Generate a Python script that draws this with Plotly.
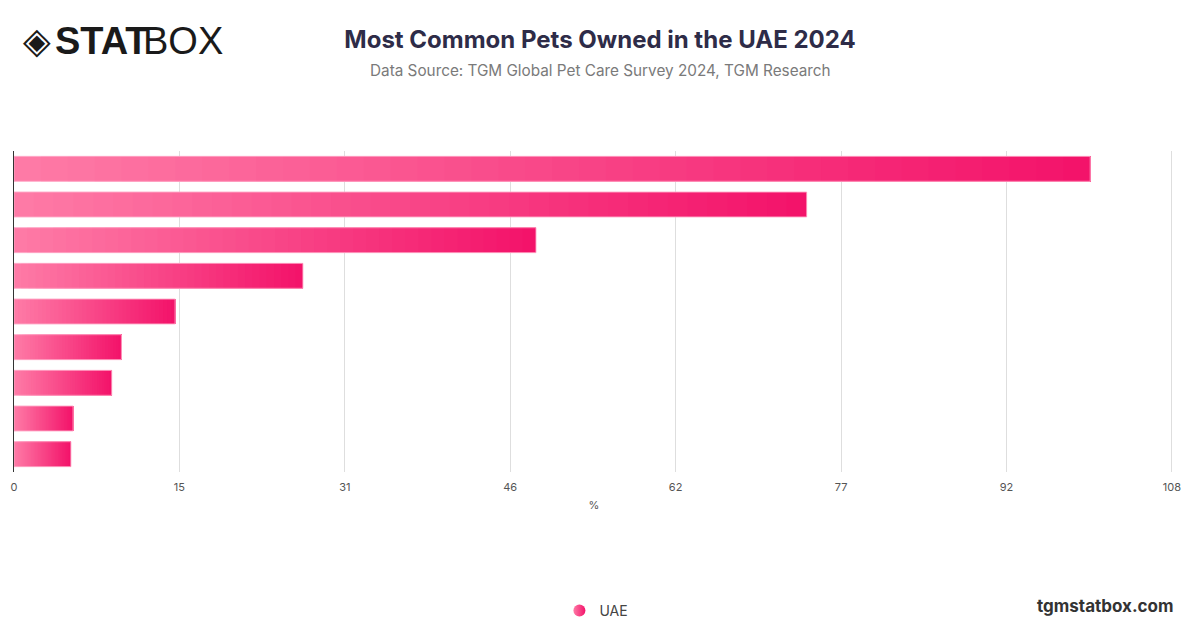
import plotly.graph_objects as go

# ---- data ----
categories = ["Dogs", "Cats", "Fish", "Birds", "Rabbits", "Hamsters", "Turtles", "Reptiles", "Other"]
values = [100.2, 73.8, 48.6, 26.9, 15.0, 10.0, 9.1, 5.5, 5.3]
series_name = "UAE"
tick_step = 15.4
tick_count = 8
axis_max = 108

W, H = 1200, 628
ML, MR, MT, MB = 14, 26, 151, 156

def px_x(p):
    return (p - ML) / (W - ML - MR)

def px_y(p):
    return (H - MB - p) / (H - MT - MB)

c0 = (254, 122, 166)
c1 = (243, 19, 106)
N = 40

fig = go.Figure()
for k in range(N):
    t = k / (N - 1)
    col = "rgb(%d,%d,%d)" % tuple(round(a + (b - a) * t) for a, b in zip(c0, c1))
    fig.add_trace(go.Bar(
        y=categories,
        x=[v * (1 - k / N) for v in values],
        base=[v * k / N for v in values],
        orientation="h",
        marker=dict(color=col, line=dict(width=0)),
        showlegend=False,
        hoverinfo="skip",
    ))
# outline
fig.add_trace(go.Bar(
    y=categories, x=values, base=[0] * len(values), orientation="h",
    marker=dict(color="rgba(0,0,0,0)", line=dict(width=1, color="rgba(255,170,200,0.9)")),
    showlegend=False, hoverinfo="skip",
))
# legend entry
fig.add_trace(go.Scatter(
    x=[None], y=[None], mode="markers", name=series_name,
    marker=dict(symbol="circle", size=15, color="rgb(254,122,166)",
                gradient=dict(type="horizontal", color="rgb(243,19,106)")),
))

tickvals = [tick_step * i for i in range(tick_count)]
ticktext = [str(round(v)) for v in tickvals]

fig.update_layout(
    width=W, height=H,
    margin=dict(l=ML, r=MR, t=MT, b=MB),
    paper_bgcolor="white", plot_bgcolor="white",
    barmode="overlay", bargap=0.3,
    font=dict(family="Inter, Roboto, sans-serif", color="#555"),
    title=dict(text="<b>Most Common Pets Owned in the UAE 2024</b>",
               x=0.5, xref="container", xanchor="center",
               y=1 - 40 / H, yref="container", yanchor="middle",
               font=dict(size=24, color="#2e2c48", family="Inter, Roboto, sans-serif")),
    xaxis=dict(range=[0, axis_max], tickvals=tickvals, ticktext=ticktext,
               showgrid=True, gridcolor="#dedede", gridwidth=1, zeroline=False,
               showline=False, ticks="outside", ticklen=5, tickcolor="rgba(0,0,0,0)",
               tickfont=dict(size=11, color="#555"),
               title=dict(text="%", font=dict(size=11, color="#555"), standoff=8)),
    yaxis=dict(autorange="reversed", showticklabels=False, showgrid=False,
               showline=True, linecolor="#333", linewidth=1, ticks=""),
    legend=dict(orientation="h", x=0.497, xref="container", xanchor="center",
                y=1 - 611 / H, yref="container", yanchor="middle",
                font=dict(size=14, color="#444"), itemsizing="constant"),
    annotations=[
        dict(text="Data Source: TGM Global Pet Care Survey 2024, TGM Research",
             x=px_x(600), y=px_y(71), xref="paper", yref="paper",
             xanchor="center", yanchor="middle", showarrow=False,
             font=dict(size=15.3, color="#7a7a7a")),
        dict(text="<b>tgmstatbox.com</b>",
             x=px_x(1176), y=px_y(606), xref="paper", yref="paper",
             xanchor="right", yanchor="middle", showarrow=False,
             font=dict(size=17, color="#333")),
        dict(text="◈",
             x=px_x(21), y=px_y(40), xref="paper", yref="paper",
             xanchor="left", yanchor="middle", showarrow=False,
             font=dict(size=36, color="#1a1a1a", family="DejaVu Sans")),
        dict(text="<b>STAT</b>",
             x=px_x(53), y=px_y(41), xref="paper", yref="paper",
             xanchor="left", yanchor="middle", showarrow=False,
             font=dict(size=38, color="#1a1a1a", family="Liberation Sans Narrow, Liberation Sans")),
        dict(text="BOX",
             x=px_x(141), y=px_y(41), xref="paper", yref="paper",
             xanchor="left", yanchor="middle", showarrow=False,
             font=dict(size=38, color="#1a1a1a", family="Liberation Sans Narrow, Liberation Sans")),
    ],
)

fig.write_html("out.html", config={"displayModeBar": False},
               post_script="document.body.style.margin='0';")
